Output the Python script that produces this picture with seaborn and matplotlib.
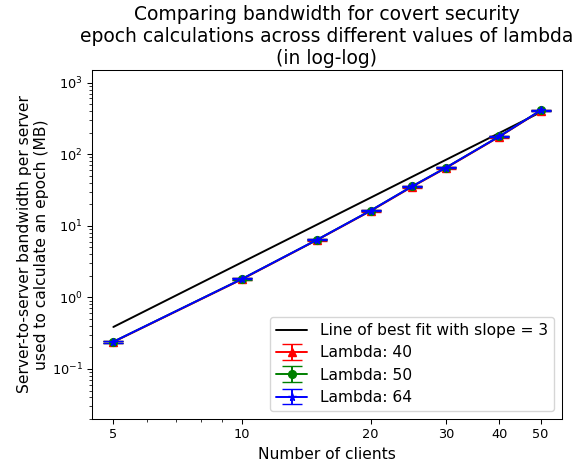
import matplotlib
matplotlib.use("Agg")
import matplotlib.pyplot as plt
import seaborn as sns
import numpy as np
import pandas as pd

# ---- data ----
clients = [5, 10, 15, 20, 25, 30, 40, 50]
bw_lambda40 = [0.238, 1.79, 6.35, 16.1, 35.0, 64.0, 175, 405]
bw_lambda50 = [0.240, 1.81, 6.40, 16.3, 35.5, 64.8, 177, 409]
bw_lambda64 = [0.240, 1.81, 6.40, 16.3, 35.5, 64.8, 177, 409]
err_lambda40 = [0.010, 0.05, 0.15, 0.4, 0.8, 1.5, 4, 9]
err_lambda50 = [0.008, 0.04, 0.12, 0.3, 0.6, 1.2, 3, 7]
err_lambda64 = [0.006, 0.03, 0.10, 0.25, 0.5, 1.0, 2.5, 6]
best_fit = [0.386, 3.09, 10.42, 24.7, 48.3, 83.4, 197.6, 386]

x_ticks = [5, 10, 20, 30, 40, 50]
x_tick_labels = ["5", "10", "20", "30", "40", "50"]

title = ("Comparing bandwidth for covert security\n"
         "epoch calculations across different values of lambda\n"
         "(in log-log)")

sns.set_style("white")
plt.rcParams["font.family"] = ["DejaVu Sans"]
plt.rcParams["axes.edgecolor"] = "black"
plt.rcParams["text.color"] = "black"
plt.rcParams["axes.labelcolor"] = "black"
plt.rcParams["xtick.color"] = "black"
plt.rcParams["ytick.color"] = "black"
plt.rcParams["xtick.bottom"] = True
plt.rcParams["ytick.left"] = True

fig = plt.figure(figsize=(5.87, 4.65), dpi=100)
ax = fig.add_axes([92 / 587, 1 - 419 / 465, (562 - 92) / 587, (419 - 70) / 465])

df_fit = pd.DataFrame({"clients": clients, "bw": best_fit})
sns.lineplot(data=df_fit, x="clients", y="bw", color="black", ax=ax,
             label="Line of best fit with slope = 3", linewidth=1.4)

ax.errorbar(clients, bw_lambda40, yerr=err_lambda40, color="red", marker="^",
            capsize=7, markersize=5.6, linewidth=1.4, label="Lambda: 40")
ax.errorbar(clients, bw_lambda50, yerr=err_lambda50, color="green", marker="o",
            capsize=7, markersize=5.6, linewidth=1.4, label="Lambda: 50")
ax.errorbar(clients, bw_lambda64, yerr=err_lambda64, color="blue", marker="*",
            capsize=7, markersize=5.6, linewidth=1.4, label="Lambda: 64")

ax.set_xscale("log")
ax.set_yscale("log")
ax.set_ylim(0.02, 1500)
ax.set_xticks(x_ticks, labels=x_tick_labels)
ax.tick_params(axis="both", which="major", labelsize=9.3, length=3.3, width=0.75)
ax.tick_params(axis="both", which="minor", length=1.9, width=0.55)
for s in ax.spines.values():
    s.set_linewidth(0.75)

ax.set_xlabel("Number of clients", fontsize=11.2)
ax.set_ylabel("Server-to-server bandwidth per server\nused to calculate an epoch (MB)",
              fontsize=11.2, labelpad=1.5)
ax.set_title(title, fontsize=13.5, pad=4)
ax.legend(loc="lower right", fontsize=11.2, labelspacing=0.47)

fig.savefig("out.png", dpi=100)
